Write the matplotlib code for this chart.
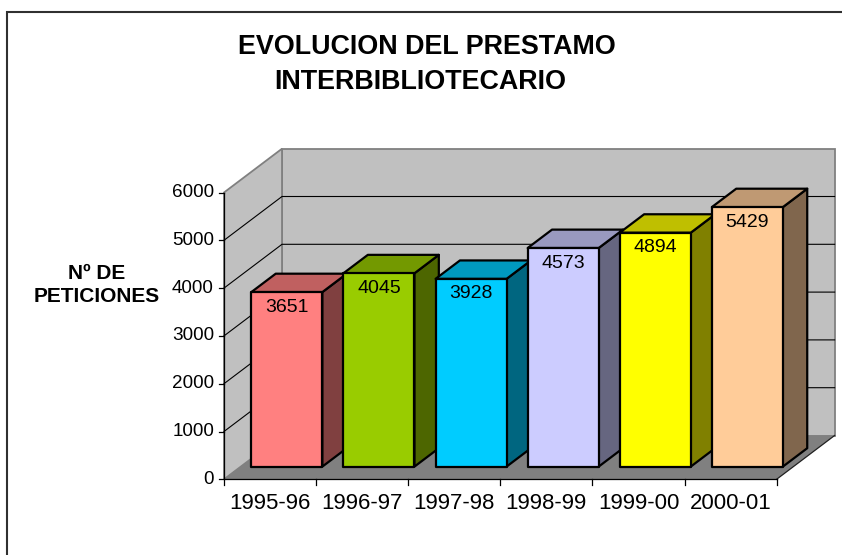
import matplotlib
matplotlib.use("Agg")
import matplotlib.pyplot as plt
from matplotlib.patches import Polygon, Rectangle

# ---- data ----
categories = ["1995-96", "1996-97", "1997-98", "1998-99", "1999-00", "2000-01"]
values = [3651, 4045, 3928, 4573, 4894, 5429]
y_ticks = [0, 1000, 2000, 3000, 4000, 5000, 6000]
front_colors = ["#FF8080", "#99CC00", "#00CCFF", "#CCCCFF", "#FFFF00", "#FFCC99"]
side_colors = ["#804040", "#4D6600", "#006680", "#666680", "#808000", "#80664D"]
top_colors = ["#C06060", "#739900", "#0099BF", "#9999BF", "#BFBF00", "#BF9973"]
title_lines = ["EVOLUCION DEL PRESTAMO", "INTERBIBLIOTECARIO"]
ylabel_text = "Nº DE\nPETICIONES"

plt.rcParams["font.family"] = ["Liberation Sans", "DejaVu Sans"]

W, H = 842, 555
fig = plt.figure(figsize=(W / 100, H / 100), dpi=100)
ax = fig.add_axes([0, 0, 1, 1])
ax.set_axis_off()

# scale: pixels per category and per 1000 units
PX_CAT, PX_K = 92.1, 47.8
X0, Y0 = 224.0, 479.3
ax.set_xlim(-X0 / PX_CAT, (W - X0) / PX_CAT)
ax.set_ylim(-(H - Y0) / PX_K * 1000, Y0 / PX_K * 1000)

n = len(categories)
vmax = y_ticks[-1]
DX = 58.0 / PX_CAT          # depth offset in category units
DY = 43.8 / PX_K * 1000     # depth offset in value units

def P(x, v, d):
    return (x + DX * d, v + DY * d)

wall_c = "#C0C0C0"
floor_c = "#808080"
border_c = "#808080"

# back wall
back = Polygon([P(0, 0, 1), P(n, 0, 1), P(n, vmax, 1), P(0, vmax, 1)],
               closed=True, facecolor=wall_c, edgecolor=border_c, lw=1.3, zorder=1)
ax.add_patch(back)
# left wall
left = Polygon([P(0, 0, 0), P(0, vmax, 0), P(0, vmax, 1), P(0, 0, 1)],
               closed=True, facecolor=wall_c, edgecolor=border_c, lw=1.3, zorder=1)
ax.add_patch(left)

# gridlines
for t in y_ticks[1:-1]:
    xs = [P(0, t, 0)[0], P(0, t, 1)[0], P(n, t, 1)[0]]
    ys = [P(0, t, 0)[1], P(0, t, 1)[1], P(n, t, 1)[1]]
    ax.plot(xs, ys, color="black", lw=0.8, zorder=2)

# floor
floor = Polygon([P(0, 0, 0), P(n, 0, 0), P(n, 0, 1), P(0, 0, 1)],
                closed=True, facecolor=floor_c, edgecolor="none", zorder=2)
ax.add_patch(floor)
ax.plot([P(n, 0, 0)[0], P(n, 0, 1)[0]], [P(n, 0, 0)[1], P(n, 0, 1)[1]],
        color="#202020", lw=0.9, zorder=2)

# axes lines and ticks
ax.plot([0, 0], [0, vmax], color="black", lw=0.9, zorder=3)
ax.plot([0, n], [0, 0], color="black", lw=0.9, zorder=3)
tick_dx = 5.5 / PX_CAT
tick_dy = 5.7 / PX_K * 1000
for t in y_ticks:
    ax.plot([-tick_dx, 0], [t, t], color="black", lw=0.9, zorder=3)
    ax.text(-tick_dx - 4.5 / PX_CAT, t, str(t), ha="right", va="center",
            fontsize=13.6, zorder=5)
for i in range(n + 1):
    ax.plot([i, i], [0, -tick_dy], color="black", lw=0.9, zorder=3)
for i, c in enumerate(categories):
    ax.text(i + 0.5, -24.5 / PX_K * 1000, c, ha="center", va="center",
            fontsize=16, zorder=5)

# bars
d0, d1 = 0.29, 0.71
half = 35.5 / PX_CAT
for i, v in enumerate(values):
    xl, xr = i + 0.5 - half, i + 0.5 + half
    front = [P(xl, 0, d0), P(xr, 0, d0), P(xr, v, d0), P(xl, v, d0)]
    side = [P(xr, 0, d0), P(xr, 0, d1), P(xr, v, d1), P(xr, v, d0)]
    top = [P(xl, v, d0), P(xr, v, d0), P(xr, v, d1), P(xl, v, d1)]
    for pts, col in ((side, side_colors[i]), (top, top_colors[i]), (front, front_colors[i])):
        ax.add_patch(Polygon(pts, closed=True, facecolor=col, edgecolor="black",
                             lw=1.6, joinstyle="round", zorder=4))
    cx, cy = P(i + 0.5, v, d0)
    ax.text(cx, cy - 15.0 / PX_K * 1000, str(v), ha="center", va="center",
            fontsize=14, zorder=6)

# titles and labels (figure coordinates in pixels)
fig.text(427 / W, 1 - 47.5 / H, title_lines[0], ha="center", va="center",
         fontsize=19.4, fontweight="bold")
fig.text(420 / W, 1 - 81.7 / H, title_lines[1], ha="center", va="center",
         fontsize=19.4, fontweight="bold")
fig.text(97 / W, 1 - 285 / H, ylabel_text, ha="center", va="center",
         multialignment="center", fontsize=15, fontweight="bold", linespacing=1.3)

# chart border
fig.patches.append(Rectangle((6.5 / W, -0.1), 1.2, 1 - 12 / H + 0.1, transform=fig.transFigure,
                             fill=False, edgecolor="#303030", lw=1.5))

fig.savefig("out.png", dpi=100)
